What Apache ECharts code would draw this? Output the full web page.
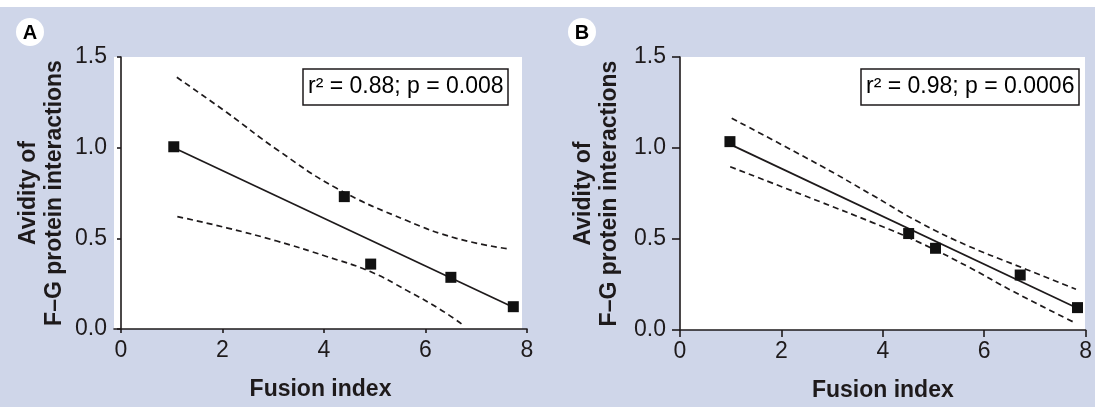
<!DOCTYPE html>
<html>
<head>
<meta charset="utf-8">
<script src="https://cdn.jsdelivr.net/npm/echarts@6/dist/echarts.min.js"></script>
<style>
  html, body { margin: 0; padding: 0; background: #fff; }
  #chart { width: 1095px; height: 407px; }
</style>
</head>
<body>
<div id="chart"></div>
<script>
// tick labels
const xTicks = [0, 2, 4, 6, 8];
const yTicks = [0, 0.5, 1.0, 1.5];

// panel A
const pointsA = [[1.04, 1.005], [4.40, 0.73], [4.92, 0.358], [6.50, 0.285], [7.73, 0.123]];
const fitA = [[1.04, 1.0], [7.73, 0.12]];
const upperA = [[1.10, 1.388], [2.08, 1.195], [3.07, 0.99], [4.25, 0.776], [5.63, 0.598], [6.61, 0.50], [7.60, 0.443]];
const lowerA = [[1.11, 0.62], [2.08, 0.558], [3.07, 0.485], [4.05, 0.40], [4.90, 0.318], [5.63, 0.213], [6.29, 0.108], [6.71, 0.028]];
const statA = 'r² = 0.88; p = 0.008';

// panel B
const pointsB = [[0.985, 1.035], [4.51, 0.53], [5.04, 0.449], [6.71, 0.302], [7.84, 0.123]];
const fitB = [[0.99, 1.02], [7.84, 0.12]];
const upperB = [[1.02, 1.163], [2.76, 0.905], [3.80, 0.74], [4.73, 0.59], [5.70, 0.46], [6.57, 0.362], [7.81, 0.224]];
const lowerB = [[0.99, 0.897], [2.76, 0.705], [3.80, 0.59], [4.73, 0.48], [5.70, 0.345], [6.57, 0.212], [7.81, 0.037]];
const statB = 'r² = 0.98; p = 0.0006';

const ink = '#1e1a1b';
const bg = '#cfd6e9';
const font = '"Liberation Sans", Arial, sans-serif';

const chart = echarts.init(document.getElementById('chart'), null, { renderer: 'canvas' });

function xAxisOf(grid, min, tickLen, margin) {
  return {
    gridIndex: grid,
    type: 'value',
    min: min,
    max: 8,
    name: 'Fusion index',
    nameLocation: 'middle',
    nameGap: 49,
    nameTextStyle: { fontFamily: font, fontSize: 23, fontWeight: 'bold', color: ink },
    axisLine: { lineStyle: { color: ink, width: 1.6 } },
    axisTick: { length: tickLen, customValues: xTicks, lineStyle: { color: ink, width: 1.6 } },
    axisLabel: { customValues: xTicks, margin: margin, fontFamily: font, fontSize: 23, color: ink },
    splitLine: { show: false }
  };
}

function yAxisOf(grid, tickLen, margin, gap) {
  return {
    gridIndex: grid,
    type: 'value',
    min: 0,
    max: 1.5,
    interval: 0.5,
    name: 'Avidity of\nF–G protein interactions',
    nameLocation: 'middle',
    nameRotate: 90,
    nameGap: gap,
    nameTextStyle: { fontFamily: font, fontSize: 23, fontWeight: 'bold', color: ink, lineHeight: 26 },
    axisLine: { show: true, lineStyle: { color: ink, width: 1.6 } },
    axisTick: { show: true, length: tickLen, customValues: yTicks, lineStyle: { color: ink, width: 1.6 } },
    axisLabel: { margin: margin, fontFamily: font, fontSize: 23, color: ink, formatter: v => v.toFixed(1) },
    splitLine: { show: false }
  };
}

function seriesOf(idx, pts, fit, upper, lower) {
  const dash = { color: ink, width: 1.7, type: [6, 4] };
  return [
    { type: 'line', xAxisIndex: idx, yAxisIndex: idx, data: upper, smooth: 0.45, symbol: 'none', lineStyle: dash, z: 2 },
    { type: 'line', xAxisIndex: idx, yAxisIndex: idx, data: lower, smooth: 0.45, symbol: 'none', lineStyle: dash, z: 2 },
    { type: 'line', xAxisIndex: idx, yAxisIndex: idx, data: fit, symbol: 'none', lineStyle: { color: ink, width: 1.7 }, z: 3 },
    { type: 'scatter', xAxisIndex: idx, yAxisIndex: idx, data: pts, symbol: 'rect', symbolSize: 11, itemStyle: { color: '#111', opacity: 1 }, z: 4 }
  ];
}

function statBox(text, left) {
  return {
    text: text,
    left: left,
    top: 69,
    padding: [6, 5],
    borderColor: ink,
    borderWidth: 1.5,
    backgroundColor: '#fff',
    textStyle: { fontFamily: font, fontSize: 23, fontWeight: 'normal', color: '#000', lineHeight: 24 }
  };
}

function panelLabel(letter, cx) {
  return {
    type: 'group',
    z: 10,
    children: [
      { type: 'circle', shape: { cx: cx, cy: 32, r: 14 }, style: { fill: '#fff' } },
      { type: 'text', x: cx, y: 33, style: { text: letter, fill: '#000', font: 'bold 20px ' + font, align: 'center', verticalAlign: 'middle' } }
    ]
  };
}

const option = {
  animation: false,
  backgroundColor: '#fff',
  title: [statBox(statA, 303), statBox(statB, 861)],
  grid: [
    { left: 114, top: 57, width: 413, height: 272 },
    { left: 680, top: 57, width: 406, height: 273 }
  ],
  xAxis: [xAxisOf(0, -0.138, 4, 10), xAxisOf(1, 0, 7, 10)],
  yAxis: [yAxisOf(0, 4, 7, 46), yAxisOf(1, 8, 14, 57)],
  graphic: [
    { type: 'rect', z: -10, shape: { x: 0, y: 7, width: 1095, height: 400 }, style: { fill: bg } },
    { type: 'rect', z: -9, shape: { x: 114, y: 57, width: 408, height: 272 }, style: { fill: '#fff' } },
    { type: 'rect', z: -9, shape: { x: 680, y: 57, width: 405, height: 273 }, style: { fill: '#fff' } },
    panelLabel('A', 30),
    panelLabel('B', 582)
  ],
  series: [].concat(
    seriesOf(0, pointsA, fitA, upperA, lowerA),
    seriesOf(1, pointsB, fitB, upperB, lowerB)
  )
};

chart.setOption(option);
</script>
</body>
</html>
